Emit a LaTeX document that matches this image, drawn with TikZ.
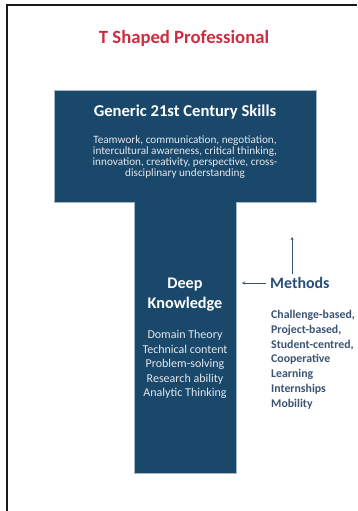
\documentclass[tikz,border=0pt]{standalone}
\usepackage{fontspec}
\setmainfont{Carlito}
\usetikzlibrary{arrows.meta}
\definecolor{tblue}{RGB}{25,72,106}
\definecolor{tred}{RGB}{205,45,65}
\definecolor{mblue}{RGB}{38,78,118}
\definecolor{lblue}{RGB}{60,84,115}
\definecolor{ltext}{RGB}{228,232,238}
\tikzset{
  head/.style={font=\bfseries\fontsize{16.6}{18}\selectfont, text=white, inner sep=0pt, align=center},
  body/.style={font=\fontsize{11.2}{10.9}\selectfont, text=ltext, inner sep=0pt, align=center},
  conn/.style={draw=lblue, line width=0.7pt, -{Stealth[length=3pt,width=3pt]}},
}
\begin{document}
\begin{tikzpicture}[x=1pt,y=-1pt]
\useasboundingbox (0,0) rectangle (357,511);
\fill[white] (0,0) rectangle (357,511);
% frame
\draw[line width=2pt, black!90] (7,511) -- (7,5) -- (357,5);
% T shape
\fill[tblue, draw=tblue!40!white, line width=0.6pt] (54,90) -- (316,90) -- (316,202) -- (236,202) -- (236,473) -- (134,473) -- (134,202) -- (54,202) -- cycle;
\node[font=\bfseries\fontsize{18.7}{20}\selectfont, text=tred, inner sep=0pt] (title) at (184,38) {T Shaped Professional};
\node[head] (gen) at (185,112) {Generic 21st Century Skills};
\node[body, anchor=north] (skills) at (185,136) {Teamwork, communication, negotiation,\\intercultural awareness, critical thinking,\\innovation, creativity, perspective, cross-\\disciplinary understanding};
\node[head, font=\bfseries\fontsize{16.2}{20}\selectfont] (deep) at (185,295) {Deep\\Knowledge};
\node[body, font=\fontsize{12}{14.5}\selectfont, anchor=north] (dk) at (185,330) {Domain Theory\\Technical content\\Problem-solving\\Research ability\\Analytic Thinking};
\node[font=\bfseries\fontsize{15.9}{16}\selectfont, text=mblue, inner sep=0pt, anchor=west] (meth) at (270,283) {Methods};
\node[font=\bfseries\fontsize{11.8}{14.8}\selectfont, text=lblue, inner sep=0pt, anchor=north west, align=left] (mlist) at (271,310) {Challenge-based,\\Project-based,\\Student-centred,\\Cooperative\\Learning\\Internships\\Mobility};
\coordinate (leftend) at (242,283);
\coordinate (upend) at (292,237);
\draw[conn] (meth.west) ++(-4,0) -- (leftend);
\draw[conn] (meth.north west) ++(22,-3) -- (upend);
\end{tikzpicture}
\end{document}
